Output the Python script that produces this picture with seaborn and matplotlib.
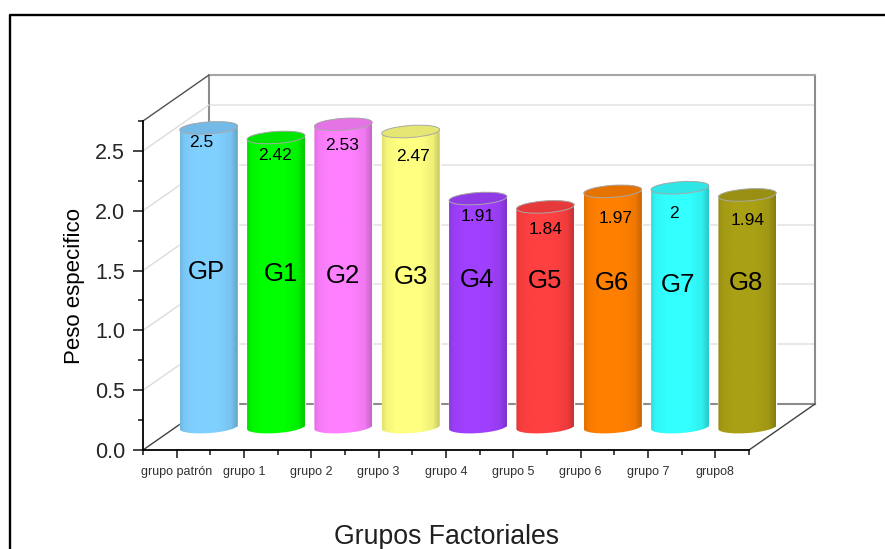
import numpy as np
import pandas as pd
import seaborn as sns
import matplotlib.pyplot as plt
from matplotlib.colors import to_rgb
from matplotlib.lines import Line2D
from matplotlib.patches import Ellipse
from matplotlib.path import Path
from matplotlib.transforms import IdentityTransform

W, H = 885, 549

groups = ['grupo patrón', 'grupo 1', 'grupo 2', 'grupo 3', 'grupo 4',
          'grupo 5', 'grupo 6', 'grupo 7', 'grupo8']
short_names = ['GP', 'G1', 'G2', 'G3', 'G4', 'G5', 'G6', 'G7', 'G8']
values = [2.5, 2.42, 2.53, 2.47, 1.91, 1.84, 1.97, 2, 1.94]
colors = ['#80d0ff', '#00ff00', '#ff80ff', '#ffff80', '#a040ff',
          '#ff4040', '#ff8000', '#33ffff', '#aaa015']

# hand placed labels, offset from the top of each cylinder in pixels
value_dx = [-7, -1, -1, 2, 0, 0, 3, -6, 0]
value_dy = [-15, -18, -21, -25, -18, -23, -27, -26, -26]
name_dx = [-2, 5, 0, 0, -1, 0, -1, -2, -1]
name_y = [1.30, 1.28, 1.26, 1.25, 1.23, 1.22, 1.20, 1.19, 1.20]

Y_TOP = 2.75
TILT = np.radians(4)
SEMI_A, SEMI_B = 29, 6


def px_axes(fig, left, top, right, bottom, **kwargs):
    return fig.add_axes([left / W, 1 - bottom / H, (right - left) / W,
                         (bottom - top) / H], **kwargs)


def px_line(fig, xs, ys, color, lw, zorder):
    fig.add_artist(Line2D(xs, [H - y for y in ys], color=color, lw=lw, zorder=zorder,
                          transform=IdentityTransform()))


def ellipse_arc(cx, cy, start, stop):
    t = np.linspace(start, stop, 60)
    x = SEMI_A * np.cos(t)
    y = SEMI_B * np.sin(t)
    return np.column_stack([cx + x * np.cos(TILT) - y * np.sin(TILT),
                            cy + x * np.sin(TILT) + y * np.cos(TILT)])


def draw_cylinders(ax):
    shade_t = np.linspace(0, 1, 200)
    shade = np.interp(shade_t, [0, 0.08, 0.25, 0.65, 0.88, 1],
                      [0.88, 0.96, 1, 1, 0.94, 0.78])
    for i, container in enumerate(ax.containers):
        bar = container[0]
        x0, x1 = bar.get_x(), bar.get_x() + bar.get_width()
        rgb = np.array(to_rgb(colors[i]))
        strip = (shade[:, None] * rgb)[None, :, :]

        cx, base_y = ax.transData.transform((i, 0))
        _, top_y = ax.transData.transform((i, values[i]))
        lower = ellipse_arc(cx, base_y, np.pi, 2 * np.pi)
        upper = ellipse_arc(cx, top_y, 0, np.pi)
        body = Path(np.vstack([lower, upper, lower[:1]]), closed=True)

        im = ax.imshow(strip, extent=(x0, x1, -0.2, values[i] + 0.1), aspect='auto',
                       interpolation='bilinear', zorder=3)
        im.set_clip_path(body, IdentityTransform())

        ax.add_patch(Ellipse((cx, top_y), 2 * SEMI_A, 2 * SEMI_B, angle=np.degrees(TILT),
                             facecolor=rgb * 0.9, edgecolor='#a8a8a8', lw=0.7, zorder=4,
                             transform=IdentityTransform()))

        ax.annotate(str(values[i]), (i, values[i]), xytext=(value_dx[i], value_dy[i]),
                    textcoords='offset pixels', ha='center', va='center',
                    fontsize=12.5, color='black', zorder=5)
        ax.annotate(short_names[i], (i, name_y[i]), xytext=(name_dx[i], 0),
                    textcoords='offset pixels', ha='center', va='center',
                    fontsize=18.5, color='black', zorder=5)


def main():
    sns.set_theme(style='white')
    plt.rcParams['font.family'] = ['Liberation Sans', 'DejaVu Sans']
    fig = plt.figure(figsize=(W / 100, H / 100), dpi=100)

    # back wall
    wall = px_axes(fig, 209, 75, 815, 404, zorder=0)
    wall.set_xlim(0, 1)
    wall.set_ylim(0, Y_TOP)
    wall.set_xticks([])
    wall.set_yticks(np.arange(0.5, 2.6, 0.5))
    wall.tick_params(length=0, labelleft=False)
    wall.yaxis.grid(True, color='#e4e4e4', lw=1.2)
    for spine in wall.spines.values():
        spine.set_color('#8c8c8c')
        spine.set_linewidth(1.5)
    wall.spines['top'].set_color('#a6a6a6')

    # front axis
    ax = px_axes(fig, 143, 121, 749, 450, zorder=1)
    ax.patch.set_alpha(0)
    ax.set_xlim(-0.5, 8.5)
    ax.set_ylim(0, Y_TOP)
    ax.set_xticks(range(len(groups)), groups, fontsize=9, color='#303030')
    ax.set_xticks(np.arange(-0.5, 9), minor=True)
    ax.set_yticks(np.arange(0, 2.6, 0.5))
    ax.set_yticks(np.arange(0.25, 2.8, 0.5), minor=True)
    ax.set_yticklabels(['0.0', '0.5', '1.0', '1.5', '2.0', '2.5'])
    ax.tick_params(axis='y', which='major', left=True, length=7.5, width=1.2, labelsize=15.5, pad=5.5)
    ax.tick_params(axis='y', which='minor', left=True, length=3.8, width=1.2)
    ax.tick_params(axis='x', which='major', bottom=True, length=6, width=1.2, pad=5.5)
    ax.tick_params(axis='x', which='minor', bottom=True, length=3.5, width=1.2)
    sns.despine(ax=ax, top=True, right=True)
    ax.spines['left'].set_color('black')
    ax.spines['bottom'].set_color('black')
    ax.spines['left'].set_linewidth(1.3)
    ax.spines['bottom'].set_linewidth(1.3)
    ax.set_ylabel('Peso especifico', fontsize=16, color='black', labelpad=7)

    # side wall and floor diagonals
    for tick in np.arange(0.5, 2.6, 0.5):
        y = 450 - tick * 329 / Y_TOP
        px_line(fig, [143, 209], [y, y - 46], '#dcdcdc', 1.0, 0.5)
    px_line(fig, [143, 209], [121, 75], '#505050', 1.0, 0.5)
    px_line(fig, [143, 209], [450, 404], '#404040', 1.0, 0.5)
    px_line(fig, [749, 815], [450, 404], '#404040', 1.0, 0.5)

    # cylinders sit half way into the floor
    bars = px_axes(fig, 175, 98, 781, 457, zorder=2)
    bars.patch.set_alpha(0)
    df = pd.DataFrame({'grupo': groups, 'peso': values})
    sns.barplot(data=df, x='grupo', y='peso', hue='grupo', palette=colors, order=groups,
                hue_order=groups, width=0.861, dodge=False, legend=False, ax=bars)
    bars.set_xlim(-0.5, 8.5)
    bars.set_ylim(-0.25, Y_TOP)
    bars.axis('off')
    draw_cylinders(bars)
    bars.set_xlim(-0.5, 8.5)
    bars.set_ylim(-0.25, Y_TOP)

    fig.text(446 / W, 1 - 537 / H, 'Grupos Factoriales', ha='center', va='center',
             fontsize=19.2, color='#202020')

    # outer frame, cut off at the right and bottom
    px_line(fig, [9.5, 9.5, W], [H, 14.5, 14.5], 'black', 1.7, 5)

    plt.savefig('out.png', dpi=100)


main()
